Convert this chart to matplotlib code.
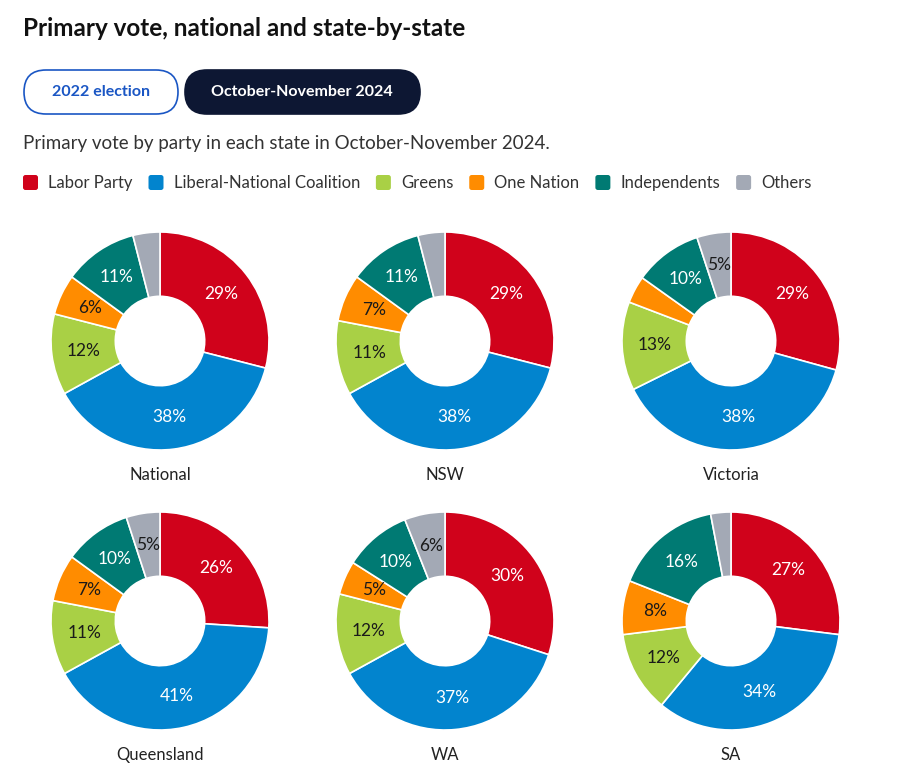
import matplotlib
matplotlib.use("Agg")
import matplotlib.pyplot as plt
from matplotlib.patches import FancyBboxPatch
import numpy as np

plt.rcParams['font.family'] = ['Lato', 'DejaVu Sans']

parties = ["Labor Party", "Liberal-National Coalition", "Greens", "One Nation", "Independents", "Others"]
colors = ["#d0021b", "#0284ce", "#a9d045", "#ff8c00", "#007a73", "#a3a9b5"]
text_colors = ["white", "white", "#1a1a1a", "#1a1a1a", "white", "#1a1a1a"]

regions = ["National", "NSW", "Victoria", "Queensland", "WA", "SA"]
national = [29, 38, 12, 6, 11, 4]
nsw = [29, 38, 11, 7, 11, 4]
victoria = [29, 38, 13, 4, 10, 5]
queensland = [26, 41, 11, 7, 10, 5]
wa = [30, 37, 12, 5, 10, 6]
sa = [27, 34, 12, 8, 16, 3]
values = [national, nsw, victoria, queensland, wa, sa]

W, H = 911, 781
fig = plt.figure(figsize=(W / 100, H / 100), dpi=100)
fig.patch.set_facecolor("white")

ov = fig.add_axes([0, 0, 1, 1])
ov.set_xlim(0, W)
ov.set_ylim(H, 0)
ov.axis("off")

ov.text(23, 28, "Primary vote, national and state-by-state", fontsize=17.5, fontweight="bold",
        color="#111111", va="center", ha="left")

b1 = FancyBboxPatch((24, 70), 154, 44, boxstyle="round,pad=0,rounding_size=22",
                    facecolor="white", edgecolor="#1a56c4", linewidth=1.2)
ov.add_patch(b1)
ov.text(101, 92, "2022 election", fontsize=11.5, fontweight="bold", color="#1a56c4",
        ha="center", va="center")
b2 = FancyBboxPatch((185, 70), 235, 44, boxstyle="round,pad=0,rounding_size=22",
                    facecolor="#0d1733", edgecolor="#0d1733", linewidth=1.2)
ov.add_patch(b2)
ov.text(302, 92, "October-November 2024", fontsize=11.5, fontweight="bold", color="white",
        ha="center", va="center")

ov.text(23, 144, "Primary vote by party in each state in October-November 2024.", fontsize=13.5,
        color="#333333", ha="left", va="center")

x = 23
for p, c in zip(parties, colors):
    sq = FancyBboxPatch((x, 175), 15, 15, boxstyle="round,pad=0,rounding_size=2.5",
                        facecolor=c, edgecolor="none")
    ov.add_patch(sq)
    t = ov.text(x + 25, 183, p, fontsize=12, color="#333333", ha="left", va="center")
    fig.canvas.draw()
    bb = t.get_window_extent()
    x = x + 25 + bb.width + 16

R = 109
centers_x = [160, 445, 731]
centers_y = [341, 621]
for i, (name, vals) in enumerate(zip(regions, values)):
    cx = centers_x[i % 3]
    cy = centers_y[i // 3]
    ax = fig.add_axes([(cx - R) / W, 1 - (cy + R) / H, 2 * R / W, 2 * R / H])
    wedges, _ = ax.pie(vals, colors=colors, startangle=90, counterclock=False,
                       wedgeprops=dict(width=0.59, edgecolor="white", linewidth=1.2),
                       radius=1.0)
    ax.set_xlim(-1, 1)
    ax.set_ylim(-1, 1)
    ax.set_aspect("equal")
    for w, v, tc in zip(wedges, vals, text_colors):
        if v >= 5:
            th = np.deg2rad((w.theta1 + w.theta2) / 2)
            r = 0.705
            ax.text(r * np.cos(th), r * np.sin(th), f"{v}%", ha="center", va="center",
                    fontsize=12.5, color=tc)
    ov.text(cx, cy + 134, name, fontsize=12, color="#222222", ha="center", va="center")

fig.savefig("out.png", dpi=100)
